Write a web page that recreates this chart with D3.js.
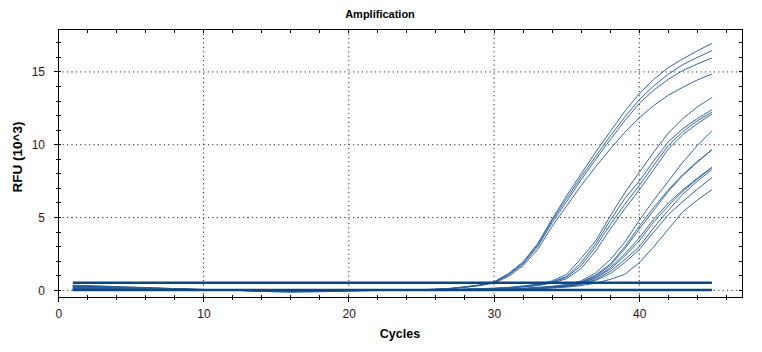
<!DOCTYPE html>
<html>
<head>
<meta charset="utf-8">
<script src="https://cdn.jsdelivr.net/npm/d3@7"></script>
<style>
body { margin: 0; background: #fff; }
svg { display: block; font-family: "Liberation Sans", Arial, sans-serif; }
</style>
</head>
<body>
<svg id="chart" width="762" height="352"></svg>
<script>
// cycle numbers and axis ticks
const cycles = [1,2,3,4,5,6,7,8,9,10,11,12,13,14,15,16,17,18,19,20,21,22,23,24,25,26,27,28,29,30,31,32,33,34,35,36,37,38,39,40,41,42,43,44,45]
const xTicks = [0,2,4,6,8,10,12,14,16,18,20,22,24,26,28,30,32,34,36,38,40,42,44,46]
const xLabels = [0,10,20,30,40]
const yTicks = [0,1,2,3,4,5,6,7,8,9,10,11,12,13,14,15,16,17]
const yLabels = [0,5,10,15]

// RFU (10^3) per cycle, early wells
const a1 = [0.25,0.23,0.21,0.19,0.17,0.15,0.13,0.1,0.08,0.05,0.03,0.01,0,-0.02,-0.03,-0.03,-0.02,-0.01,0,0,0.01,0.01,0.02,0.03,0.05,0.08,0.14,0.24,0.37,0.58,1.15,1.95,3.2,4.9,6.5,8.0,9.5,10.9,12.3,13.5,14.5,15.3,15.9,16.45,16.96]
const a2 = [0.1,0.09,0.08,0.07,0.06,0.05,0.04,0.03,0.02,0.01,0,-0.01,-0.02,-0.03,-0.04,-0.04,-0.03,-0.02,-0.01,0,0,0.01,0.02,0.03,0.04,0.07,0.13,0.23,0.35,0.55,1.1,1.9,3.1,4.8,6.3,7.8,9.2,10.6,11.9,13.1,14.05,14.85,15.5,16.0,16.46]
const a3 = [0.3,0.28,0.25,0.22,0.19,0.16,0.13,0.1,0.07,0.04,0.02,0,-0.02,-0.05,-0.08,-0.1,-0.08,-0.05,-0.03,-0.01,0,0.01,0.02,0.03,0.04,0.07,0.12,0.22,0.34,0.53,1.05,1.8,3.0,4.65,6.1,7.6,9.0,10.35,11.65,12.85,13.75,14.5,15.1,15.55,15.96]
const a4 = [0.05,0.05,0.04,0.04,0.03,0.03,0.02,0.02,0.01,0.01,0,0,-0.01,-0.01,-0.02,-0.02,-0.01,-0.01,0,0,0.01,0.01,0.02,0.03,0.04,0.06,0.11,0.2,0.32,0.5,0.95,1.7,2.8,4.4,5.8,7.2,8.5,9.7,10.85,11.85,12.7,13.4,13.95,14.45,14.86]

// middle wells
const b1 = [0.32,0.3,0.27,0.24,0.21,0.18,0.15,0.12,0.09,0.06,0.03,0.01,-0.02,-0.05,-0.08,-0.09,-0.07,-0.05,-0.03,-0.02,-0.01,0,0.01,0.02,0.03,0.04,0.06,0.08,0.11,0.15,0.2,0.3,0.42,0.65,1.1,2.2,3.4,5.1,6.7,8.1,9.5,10.8,11.8,12.6,13.24]
const b2 = [0.15,0.14,0.13,0.12,0.1,0.09,0.08,0.06,0.05,0.03,0.02,0,-0.01,-0.02,-0.03,-0.03,-0.02,-0.02,-0.01,-0.01,0,0,0.01,0.02,0.03,0.04,0.05,0.07,0.1,0.13,0.18,0.27,0.38,0.58,0.95,1.9,3.2,4.8,6.3,7.5,8.9,10.2,11.1,11.8,12.4]
const b3 = [0.05,0.05,0.05,0.04,0.04,0.04,0.03,0.03,0.02,0.02,0.01,0,0,-0.01,-0.01,-0.02,-0.02,-0.01,-0.01,0,0,0,0.01,0.01,0.02,0.03,0.05,0.07,0.09,0.12,0.17,0.25,0.35,0.55,0.9,1.7,3.0,4.5,5.9,7.2,8.6,9.95,10.9,11.65,12.23]
const b4 = [0.22,0.2,0.18,0.16,0.14,0.12,0.1,0.08,0.06,0.04,0.02,0,-0.02,-0.04,-0.06,-0.06,-0.05,-0.04,-0.03,-0.02,-0.01,0,0,0.01,0.02,0.03,0.04,0.06,0.08,0.11,0.15,0.23,0.32,0.5,0.8,1.5,2.7,4.2,5.6,6.9,8.3,9.7,10.7,11.45,12.1]

// late wells
const c1 = [0.28,0.26,0.24,0.21,0.18,0.15,0.12,0.09,0.06,0.04,0.02,0,-0.02,-0.04,-0.06,-0.07,-0.06,-0.05,-0.04,-0.03,-0.02,-0.01,0,0,0.01,0.02,0.03,0.04,0.05,0.07,0.1,0.14,0.2,0.28,0.4,0.65,1.2,2.1,3.3,4.8,6.2,7.5,8.8,9.95,10.96]
const c2 = [0.08,0.08,0.07,0.07,0.06,0.05,0.04,0.03,0.02,0.01,0,0,-0.01,-0.02,-0.03,-0.03,-0.03,-0.02,-0.02,-0.01,-0.01,0,0,0.01,0.01,0.02,0.03,0.04,0.05,0.06,0.09,0.13,0.18,0.25,0.36,0.58,1.05,1.8,3.0,4.4,5.7,6.9,7.95,8.85,9.66]
const c3 = [0.35,0.32,0.29,0.26,0.22,0.19,0.15,0.12,0.08,0.05,0.02,0,-0.03,-0.07,-0.11,-0.13,-0.12,-0.1,-0.07,-0.05,-0.03,-0.01,0,0.01,0.01,0.02,0.03,0.04,0.05,0.06,0.09,0.12,0.17,0.24,0.34,0.55,1.0,1.7,2.85,4.2,5.5,6.8,7.9,8.8,9.65]
const c4 = [0.12,0.11,0.1,0.09,0.08,0.07,0.06,0.05,0.04,0.02,0.01,0,-0.01,-0.02,-0.03,-0.04,-0.04,-0.03,-0.02,-0.01,0,0,0.01,0.01,0.02,0.02,0.03,0.04,0.04,0.05,0.08,0.11,0.16,0.22,0.32,0.5,0.9,1.55,2.5,3.6,4.9,6.0,6.9,7.7,8.45]
const c5 = [0.18,0.17,0.15,0.14,0.12,0.1,0.08,0.06,0.05,0.03,0.01,0,-0.02,-0.04,-0.06,-0.07,-0.06,-0.05,-0.04,-0.03,-0.02,-0.01,0,0,0.01,0.02,0.02,0.03,0.04,0.05,0.08,0.11,0.15,0.21,0.3,0.47,0.85,1.45,2.35,3.4,4.7,5.8,6.8,7.65,8.42]
const c6 = [0.02,0.02,0.02,0.02,0.01,0.01,0.01,0.01,0,0,0,-0.01,-0.01,-0.02,-0.02,-0.02,-0.02,-0.01,-0.01,-0.01,0,0,0,0.01,0.01,0.02,0.02,0.03,0.04,0.05,0.07,0.1,0.14,0.2,0.28,0.43,0.75,1.3,2.1,3.0,4.3,5.5,6.6,7.5,8.29]
const c7 = [0.25,0.23,0.21,0.19,0.16,0.14,0.11,0.09,0.06,0.04,0.02,0,-0.02,-0.03,-0.05,-0.05,-0.05,-0.04,-0.03,-0.02,-0.01,0,0,0.01,0.01,0.02,0.02,0.03,0.04,0.05,0.07,0.1,0.13,0.18,0.26,0.4,0.68,1.15,1.9,2.8,4.0,5.2,6.1,6.95,7.74]
const c8 = [0.1,0.1,0.09,0.08,0.07,0.06,0.05,0.04,0.03,0.02,0.01,0,-0.01,-0.02,-0.03,-0.03,-0.03,-0.02,-0.02,-0.01,-0.01,0,0,0,0.01,0.01,0.02,0.03,0.03,0.04,0.06,0.09,0.12,0.16,0.22,0.32,0.5,0.75,1.1,1.9,3.0,4.2,5.4,6.2,6.92]

// flat wells (no amplification)
const f1 = [0.52,0.52,0.52,0.52,0.52,0.52,0.52,0.52,0.52,0.52,0.52,0.52,0.52,0.52,0.52,0.52,0.52,0.52,0.52,0.52,0.52,0.52,0.52,0.52,0.52,0.52,0.52,0.52,0.52,0.52,0.52,0.52,0.52,0.52,0.52,0.52,0.52,0.52,0.52,0.52,0.52,0.52,0.52,0.52,0.52]
const f2 = [0.02,0.02,0.02,0.02,0.02,0.02,0.02,0.02,0.02,0.02,0.02,0.02,0.02,0.02,0.02,0.02,0.02,0.02,0.02,0.02,0.02,0.02,0.02,0.02,0.02,0.02,0.02,0.02,0.02,0.02,0.02,0.02,0.02,0.02,0.02,0.02,0.02,0.02,0.02,0.02,0.02,0.02,0.02,0.02,0.02]

const curves = [a1, a2, a3, a4, b1, b2, b3, b4, c1, c2, c3, c4, c5, c6, c7, c8]
const flats = [f1, f2]

function drawChart() {
	const margin = { top: 29.3, right: 19.3, bottom: 54.7, left: 58.3 }
	const width = 762 - margin.left - margin.right,
		height = 352 - margin.top - margin.bottom

	const svg = d3.select("#chart")
	const g = svg.append("g")
		.attr("transform", `translate(${margin.left},${margin.top})`)

	const x = d3.scaleLinear().domain([0, 47.12]).range([0, width])
	const y = d3.scaleLinear().domain([-0.48, 17.93]).range([height, 0])

	// dotted grid
	g.selectAll(".vgrid")
		.data(xLabels.slice(1))
		.join("line")
		.attr("x1", d => x(d)).attr("x2", d => x(d))
		.attr("y1", 0).attr("y2", height)
		.attr("stroke", "#000")
		.attr("stroke-dasharray", "1,3.4")
	g.selectAll(".hgrid")
		.data(yLabels)
		.join("line")
		.attr("x1", 0).attr("x2", width)
		.attr("y1", d => y(d)).attr("y2", d => y(d))
		.attr("stroke", "#000")
		.attr("stroke-dasharray", "1,3.4")

	// curves
	const line = d3.line()
		.x((d, i) => x(cycles[i]))
		.y(d => y(d))

	g.selectAll(".curve")
		.data(curves)
		.join("path")
		.attr("fill", "none")
		.attr("stroke", "#2a5e9b")
		.attr("stroke-width", 0.95)
		.attr("d", line)

	g.selectAll(".flat")
		.data(flats)
		.join("path")
		.attr("fill", "none")
		.attr("stroke", "#0b4584")
		.attr("stroke-width", 2.5)
		.attr("d", line)

	// frame
	g.append("rect")
		.attr("width", width).attr("height", height)
		.attr("fill", "none")
		.attr("stroke", "#000")
		.attr("shape-rendering", "crispEdges")

	// tick marks
	const tickG = g.append("g")
		.attr("stroke", "#000")
		.attr("shape-rendering", "crispEdges")
	tickG.selectAll(".bt").data(xTicks).join("line")
		.attr("x1", d => x(d)).attr("x2", d => x(d))
		.attr("y1", height - 2.8)
		.attr("y2", d => xLabels.includes(d) ? height + 5 : height + 2.7)
	tickG.selectAll(".tt").data(xTicks).join("line")
		.attr("x1", d => x(d)).attr("x2", d => x(d))
		.attr("y1", 0).attr("y2", 4)
	tickG.selectAll(".lt").data(yTicks).join("line")
		.attr("y1", d => y(d)).attr("y2", d => y(d))
		.attr("x1", d => yLabels.includes(d) ? -4.6 : -2.3)
		.attr("x2", 2.7)
	tickG.selectAll(".rt").data(yTicks).join("line")
		.attr("y1", d => y(d)).attr("y2", d => y(d))
		.attr("x1", width - 4).attr("x2", width)

	// tick labels
	const xAxis = g.append("g")
		.attr("transform", `translate(0,${height})`)
		.call(d3.axisBottom(x).tickValues(xLabels).tickSize(0).tickPadding(12))
	const yAxis = g.append("g")
		.call(d3.axisLeft(y).tickValues(yLabels).tickSize(0).tickPadding(13.3))
	for (const ax of [xAxis, yAxis]) {
		ax.select(".domain").remove()
		ax.selectAll("text")
			.attr("fill", "#331111")
			.style("font-size", "12px")
			.style("font-family", "'Liberation Sans', Arial, sans-serif")
	}

	// titles
	svg.append("text")
		.attr("x", 380).attr("y", 18.3)
		.attr("text-anchor", "middle")
		.style("font-size", "11px").style("font-weight", "bold")
		.text("Amplification")
	svg.append("text")
		.attr("x", 400).attr("y", 338)
		.attr("text-anchor", "middle")
		.style("font-size", "12.5px").style("font-weight", "bold")
		.text("Cycles")
	svg.append("text")
		.attr("transform", "translate(21.5,157) rotate(-90)")
		.attr("text-anchor", "middle")
		.style("font-size", "13.5px").style("font-weight", "bold")
		.text("RFU (10^3)")
}

drawChart()
</script>
</body>
</html>
